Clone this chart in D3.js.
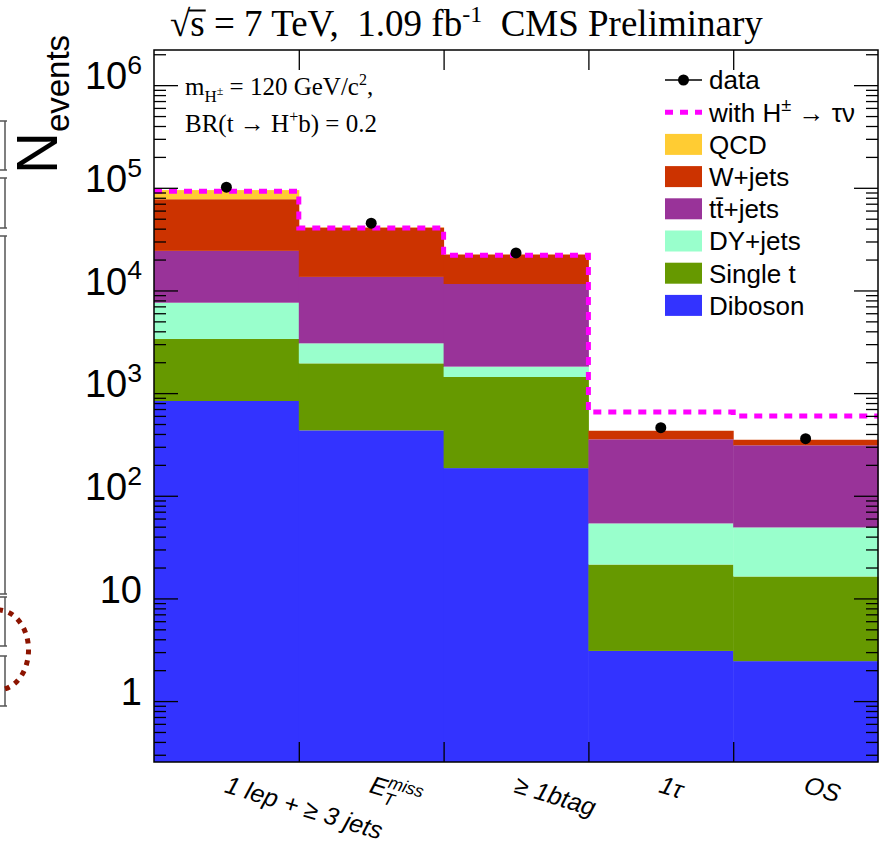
<!DOCTYPE html>
<html><head><meta charset="utf-8">
<script src="https://cdn.jsdelivr.net/npm/d3@7"></script>
<style>body{margin:0;background:#fff}svg{display:block}</style>
</head><body><svg id="c" width="884" height="846"></svg>
<script>
// ---------------- data ----------------
const categories = ["1 lep + ≥ 3 jets", "E_{T}^{miss}", "≥ 1btag", "1τ", "OS"];
const seriesNames = ["Diboson", "Single t", "DY+jets", "tt̄+jets", "W+jets", "QCD"]; // bottom -> top
const diboson   = [838, 434, 186, 3.08, 2.45];
const singleTop = [2530, 1515, 1250, 18.3, 13.9];
const dyJets    = [4230, 1105, 375, 32.4, 32.8];
const ttJets    = [16700, 10500, 9750, 301, 261];
const wJets     = [53100, 27450, 10840, 75, 41];
const qcd       = [17600, 300, 100, 0.5, 0.3];
const withHiggs = [92500, 40600, 22000, 655, 598];
const dataValues = [101400, 45200, 23200, 460, 360];
const dataErrors = [318, 213, 152, 21, 19];
const yTickValues = [1, 10, 100, 1e3, 1e4, 1e5, 1e6];
const yTickLabels = ["1", "10", "10^{2}", "10^{3}", "10^{4}", "10^{5}", "10^{6}"];
const legendLabels = ["data", "with H^{±} → τν", "QCD", "W+jets", "tt̄+jets", "DY+jets", "Single t", "Diboson"];
const colors = {"QCD":"#ffcc33","W+jets":"#cc3300","tt̄+jets":"#993399","DY+jets":"#99ffcc","Single t":"#669900","Diboson":"#3333ff"};

// ---------------- layout ----------------
const svg = d3.select("#c");
const L = 154, R = 878, T = 50, B = 762;
const SANS = "'Liberation Sans', Arial, Helvetica, sans-serif";
const SERIF = "'Liberation Serif', 'Times New Roman', serif";

const x = d3.scaleBand().domain(categories).range([L, R]);
const xe = d3.scaleLinear().domain([0, categories.length]).range([L, R]);
const y = d3.scaleLog().domain([0.255, 2.2e6]).range([B, T]);

// rich text helper: supports _{..} and ^{..}
function rich(sel, str, fs) {
  sel.text(null);
  const parts = str.split(/(_\{[^}]*\}|\^\{[^}]*\})/).filter(s => s.length);
  let shift = 0; let lastSubLen = 0;
  parts.forEach((p, k) => {
    let t, dy = 0, size = fs, dx = 0;
    if (p.startsWith("_{")) { t = p.slice(2, -1); size = fs * 0.7; dy = fs * 0.28 - shift; shift = fs * 0.28; lastSubLen = t.length; }
    else if (p.startsWith("^{")) {
      t = p.slice(2, -1); size = fs * 0.7; dy = -fs * 0.4 - shift; shift = -fs * 0.4;
      if (k > 0 && parts[k - 1].startsWith("_{")) dx = -lastSubLen * fs * 0.7 * 0.6;
    }
    else { t = p; dy = -shift; shift = 0; }
    const ts = sel.append("tspan").attr("font-size", size).text(t);
    if (dy) ts.attr("dy", dy);
    if (dx) ts.attr("dx", dx);
  });
}

// ---------------- stacked histogram ----------------
const rows = categories.map((c, i) => ({
  cat: c, "Diboson": diboson[i], "Single t": singleTop[i], "DY+jets": dyJets[i],
  "tt̄+jets": ttJets[i], "W+jets": wJets[i], "QCD": qcd[i]
}));
const stack = d3.stack().keys(seriesNames)(rows);
const ymin = y.domain()[0];
svg.append("g").selectAll("g").data(stack).join("g")
  .attr("fill", d => colors[d.key])
  .selectAll("rect").data(d => d).join("rect")
  .attr("x", d => x(d.data.cat))
  .attr("width", x.bandwidth() + 0.5)
  .attr("y", d => y(d[1]))
  .attr("height", d => y(Math.max(d[0], ymin)) - y(d[1]));

// signal step line
const stepPts = withHiggs.map((v, i) => [xe(i), y(v)]);
stepPts.push([xe(categories.length), y(withHiggs[withHiggs.length - 1])]);
svg.append("path")
  .attr("d", d3.line().curve(d3.curveStepAfter)(stepPts))
  .attr("fill", "none").attr("stroke", "#ff00ff").attr("stroke-width", 5)
  .attr("stroke-dasharray", "8,7");

// data points
const dg = svg.append("g");
dataValues.forEach((v, i) => {
  const cx = x(categories[i]) + x.bandwidth() / 2;
  dg.append("line").attr("x1", cx).attr("x2", cx)
    .attr("y1", y(v + dataErrors[i])).attr("y2", y(v - dataErrors[i]))
    .attr("stroke", "#000").attr("stroke-width", 1.5);
  dg.append("circle").attr("cx", cx).attr("cy", y(v)).attr("r", 5.5).attr("fill", "#000");
});

// ---------------- axes ----------------
const minors = [];
for (let e = -1; e <= 6; e++) for (let m = 2; m <= 9; m++) {
  const v = m * Math.pow(10, e);
  if (v >= ymin && v <= y.domain()[1]) minors.push(v);
}
function styleAxis(g) { g.select(".domain").remove(); g.selectAll("line").attr("stroke", "#000").attr("stroke-width", 1.3); }

const leftMaj = svg.append("g").attr("transform", `translate(${L},0)`)
  .call(d3.axisLeft(y).tickValues(yTickValues).tickSizeInner(-24).tickSizeOuter(0).tickPadding(12).tickFormat(() => ""))
  .call(styleAxis);
leftMaj.selectAll(".tick text").each(function (d, i) {
  const s = d3.select(this).attr("font-family", SANS).attr("fill", "#000").attr("dy", "0.36em");
  rich(s, yTickLabels[i], 38);
});
svg.append("g").attr("transform", `translate(${L},0)`)
  .call(d3.axisLeft(y).tickValues(minors).tickSizeInner(-12).tickSizeOuter(0).tickFormat(() => "")).call(styleAxis);
svg.append("g").attr("transform", `translate(${R},0)`)
  .call(d3.axisRight(y).tickValues(yTickValues).tickSizeInner(-24).tickSizeOuter(0).tickFormat(() => "")).call(styleAxis);
svg.append("g").attr("transform", `translate(${R},0)`)
  .call(d3.axisRight(y).tickValues(minors).tickSizeInner(-12).tickSizeOuter(0).tickFormat(() => "")).call(styleAxis);
svg.append("g").attr("transform", `translate(0,${B})`)
  .call(d3.axisBottom(xe).tickValues(d3.range(1, categories.length)).tickSizeInner(-20).tickSizeOuter(0).tickFormat(() => "")).call(styleAxis);
svg.append("g").attr("transform", `translate(0,${T})`)
  .call(d3.axisTop(xe).tickValues(d3.range(1, categories.length)).tickSizeInner(-20).tickSizeOuter(0).tickFormat(() => "")).call(styleAxis);

// category labels
const catAx = svg.append("g").attr("transform", `translate(0,${B})`)
  .call(d3.axisBottom(x).tickSize(0).tickFormat(() => ""));
catAx.select(".domain").remove();
catAx.selectAll(".tick text").each(function (d) {
  const s = d3.select(this).attr("font-family", SANS).attr("font-style", "italic").attr("fill", "#000")
    .attr("text-anchor", "start").attr("x", -3).attr("y", 30).attr("dy", 0)
    .attr("transform", "rotate(17,-3,30)");
  rich(s, d, 25);
});

// frame
svg.append("rect").attr("x", L).attr("y", T).attr("width", R - L).attr("height", B - T)
  .attr("fill", "none").attr("stroke", "#000").attr("stroke-width", 1.5);

// ---------------- legend ----------------
const lg = svg.append("g").attr("font-family", SANS).attr("font-size", 26);
legendLabels.forEach((lab, i) => {
  const cy = 80 + i * 32.2;
  if (i === 0) {
    lg.append("line").attr("x1", 665).attr("x2", 702).attr("y1", cy).attr("y2", cy).attr("stroke", "#000").attr("stroke-width", 1.5);
    lg.append("circle").attr("cx", 683.5).attr("cy", cy).attr("r", 5.5).attr("fill", "#000");
  } else if (i === 1) {
    lg.append("line").attr("x1", 665).attr("x2", 702).attr("y1", cy).attr("y2", cy).attr("stroke", "#ff00ff").attr("stroke-width", 5).attr("stroke-dasharray", "8,7");
  } else {
    lg.append("rect").attr("x", 665).attr("y", cy - 10.5).attr("width", 37).attr("height", 21).attr("fill", colors[lab]);
  }
  const t = lg.append("text").attr("x", 709).attr("y", cy).attr("dy", "0.36em").attr("fill", "#000");
  rich(t, lab, 26);
});

// ---------------- texts ----------------
const title = svg.append("text").attr("x", 170).attr("y", 36).attr("font-family", SERIF).attr("font-size", 37).attr("fill", "#000");
title.append("tspan").text("√s");
title.append("tspan").text(" = 7 TeV,\u00a0\u00a01.09 fb");
title.append("tspan").attr("font-size", 24).attr("dy", -14).text("-1");
title.append("tspan").attr("dy", 14).text("\u00a0\u00a0CMS Preliminary");
// square-root bar over "s"
{
  const n = title.node();
  let sx0 = 185, sx1 = 199;
  try {
    const b0 = n.getExtentOfChar(0), b1 = n.getExtentOfChar(1);
    sx0 = b0.x + b0.width - 2; sx1 = b1.x + b1.width + 1;
  } catch (e) {}
  svg.append("line").attr("x1", sx0).attr("x2", sx1).attr("y1", 10.5).attr("y2", 10.5)
    .attr("stroke", "#000").attr("stroke-width", 2);
}

const a1 = svg.append("text").attr("x", 185).attr("y", 95).attr("font-family", SERIF).attr("font-size", 25).attr("fill", "#000");
a1.append("tspan").text("m");
a1.append("tspan").attr("font-size", 17).attr("dy", 7).text("H");
a1.append("tspan").attr("font-size", 12).attr("dy", -7).text("±");
a1.append("tspan").attr("dy", 0).text(" = 120 GeV/c");
a1.append("tspan").attr("font-size", 16).attr("dy", -10).text("2");
a1.append("tspan").attr("dy", 10).text(",");
const a2 = svg.append("text").attr("x", 185).attr("y", 132).attr("font-family", SERIF).attr("font-size", 25).attr("fill", "#000");
a2.append("tspan").text("BR(t → H");
a2.append("tspan").attr("font-size", 16).attr("dy", -10).text("+");
a2.append("tspan").attr("dy", 10).text("b) = 0.2");

const yl = svg.append("text").attr("transform", "translate(57,174) rotate(-90)").attr("font-family", SANS).attr("fill", "#000");
yl.append("tspan").attr("font-size", 58).text("N");
yl.append("tspan").attr("font-size", 33).attr("dy", 12).text("events");

// ---------------- left-edge artefacts (neighbouring slide content) ----------------
const art = svg.append("g").attr("stroke", "#555").attr("stroke-width", 1.5).attr("fill", "none");
[[121, 170], [178, 228], [236, 594], [597, 646], [656, 706]].forEach(([a, b]) => {
  art.append("line").attr("x1", 5).attr("x2", 5).attr("y1", a).attr("y2", b);
  art.append("line").attr("x1", 0).attr("x2", 7).attr("y1", a).attr("y2", a);
  art.append("line").attr("x1", 0).attr("x2", 7).attr("y1", b).attr("y2", b);
});
svg.append("path").attr("d", "M -2,610 A 29,38 0 0 1 -2,690")
  .attr("fill", "none").attr("stroke", "#8c1400").attr("stroke-width", 5).attr("stroke-dasharray", "5,6");
</script></body></html>
